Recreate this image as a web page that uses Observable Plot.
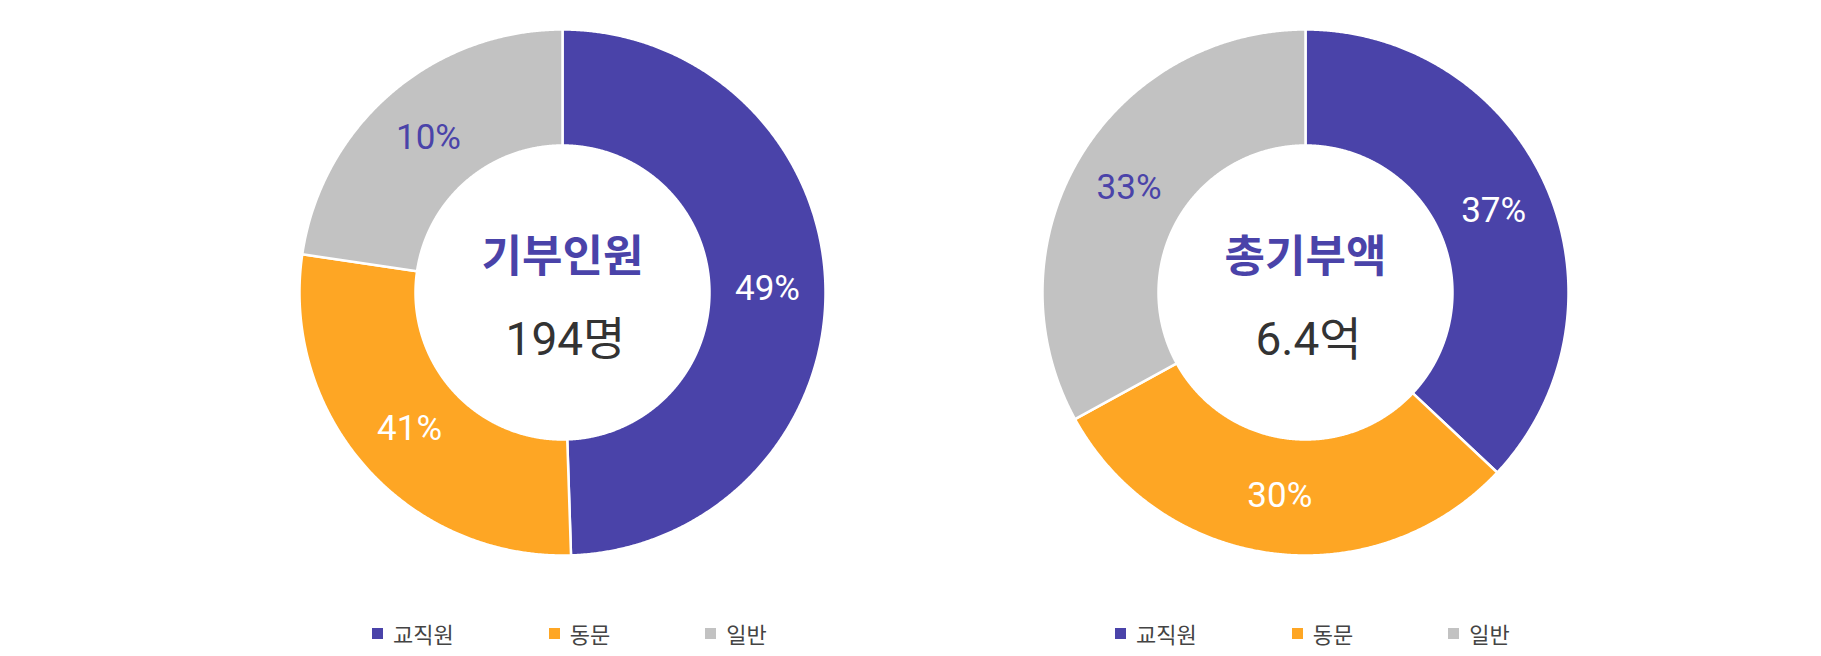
<!DOCTYPE html>
<html>
<head>
<meta charset="utf-8">
<script src="https://cdn.jsdelivr.net/npm/d3@7"></script>
<script src="https://cdn.jsdelivr.net/npm/@observablehq/plot@0.6"></script>
<style>
  html, body { margin: 0; padding: 0; background: #fff; }
  #page { position: relative; width: 1821px; height: 656px; overflow: hidden; font-family: Roboto, "Noto Sans CJK KR", sans-serif; }
  .donut { position: absolute; }
  .legend { position: absolute; display: flex; align-items: center; gap: 95px; font-family: "Noto Sans CJK KR", sans-serif; font-size: 22px; color: #444; }
  .legend .item { display: flex; align-items: center; gap: 10px; }
  .legend .sw { width: 11px; height: 11px; display: inline-block; }
</style>
</head>
<body>
<div id="page"></div>
<script>
// ---- data ----
const categories = ["교직원", "동문", "일반"];
// left ring: arc sizes as drawn (donor counts, total 194) and the printed labels
const donorCounts = [96, 54, 44];
const donorLabels = ["49%", "41%", "10%"];
// right ring: share of total amount
const amountShares = [37, 30, 33];
const amountLabels = ["37%", "30%", "33%"];
const centerTitles = ["기부인원", "총기부액"];
const centerValues = ["194명", "6.4억"];

// ---- styles ----
const palette = ["#4a43a9", "#fea624", "#c2c2c2"];
const PURPLE = "#4a43a9";
const R_OUT = 263, R_IN = 147, HALF = 270;

function donut(values, labels, title, value) {
  const arcs = d3.pie().sort(null).value(d => d)(values);
  const rIn = R_IN / R_OUT;
  const rMid = 205 / R_OUT;
  const poly = [];
  arcs.forEach((a, i) => {
    const n = Math.max(2, Math.ceil((a.endAngle - a.startAngle) / 0.005));
    for (let k = 0; k <= n; k++) {
      const t = a.startAngle + (a.endAngle - a.startAngle) * k / n;
      poly.push({cat: categories[i], x: Math.sin(t), y: Math.cos(t)});
    }
    for (let k = n; k >= 0; k--) {
      const t = a.startAngle + (a.endAngle - a.startAngle) * k / n;
      poly.push({cat: categories[i], x: rIn * Math.sin(t), y: rIn * Math.cos(t)});
    }
  });
  const lab = arcs.map((a, i) => {
    const t = (a.startAngle + a.endAngle) / 2;
    return {cat: categories[i], label: labels[i], x: rMid * Math.sin(t), y: rMid * Math.cos(t)};
  });
  const dom = [-HALF / R_OUT, HALF / R_OUT];
  const pctFont = {fontSize: 35, fontWeight: 400, fontFamily: "Roboto"};
  return Plot.plot({
    width: 2 * HALF, height: 2 * HALF,
    margin: 0,
    x: {domain: dom, axis: null},
    y: {domain: dom, axis: null},
    color: {domain: categories, range: palette},
    style: {background: "transparent", overflow: "visible"},
    marks: [
      Plot.line(poly, {x: "x", y: "y", z: "cat", fill: "cat", stroke: "white", strokeWidth: 2.5, curve: "linear-closed"}),
      Plot.text(lab.filter(d => d.cat !== "일반"), {x: "x", y: "y", text: "label", fill: "white", ...pctFont}),
      Plot.text(lab.filter(d => d.cat === "일반"), {x: "x", y: "y", text: "label", fill: PURPLE, ...pctFont}),
      Plot.text([title], {x: 0, y: 0, dy: -35, text: d => d, fill: PURPLE, fontSize: 44, fontWeight: 700, fontFamily: "Noto Sans CJK KR"}),
      Plot.text([value], {x: 0, y: 0, dx: 3, dy: 48, text: d => d, fill: "#333", fontSize: 46, fontFamily: "Roboto, 'Noto Sans CJK KR'"})
    ]
  });
}

function legend() {
  const div = document.createElement("div");
  div.className = "legend";
  categories.forEach((c, i) => {
    const it = document.createElement("div");
    it.className = "item";
    const sw = document.createElement("span");
    sw.className = "sw";
    sw.style.background = palette[i];
    const tx = document.createElement("span");
    tx.textContent = c;
    it.append(sw, tx);
    div.append(it);
  });
  return div;
}

const page = document.getElementById("page");
const centersX = [562, 1305];
const CY = 292;
const specs = [
  [donorCounts, donorLabels, centerTitles[0], centerValues[0]],
  [amountShares, amountLabels, centerTitles[1], centerValues[1]]
];
specs.forEach((s, i) => {
  const wrap = document.createElement("div");
  wrap.className = "donut";
  wrap.style.left = (centersX[i] - HALF) + "px";
  wrap.style.top = (CY - HALF) + "px";
  wrap.append(donut(...s));
  page.append(wrap);
  const lg = legend();
  lg.style.left = (centersX[i] - 190) + "px";
  lg.style.top = "617px";
  lg.style.height = "32px";
  page.append(lg);
});
</script>
</body>
</html>
